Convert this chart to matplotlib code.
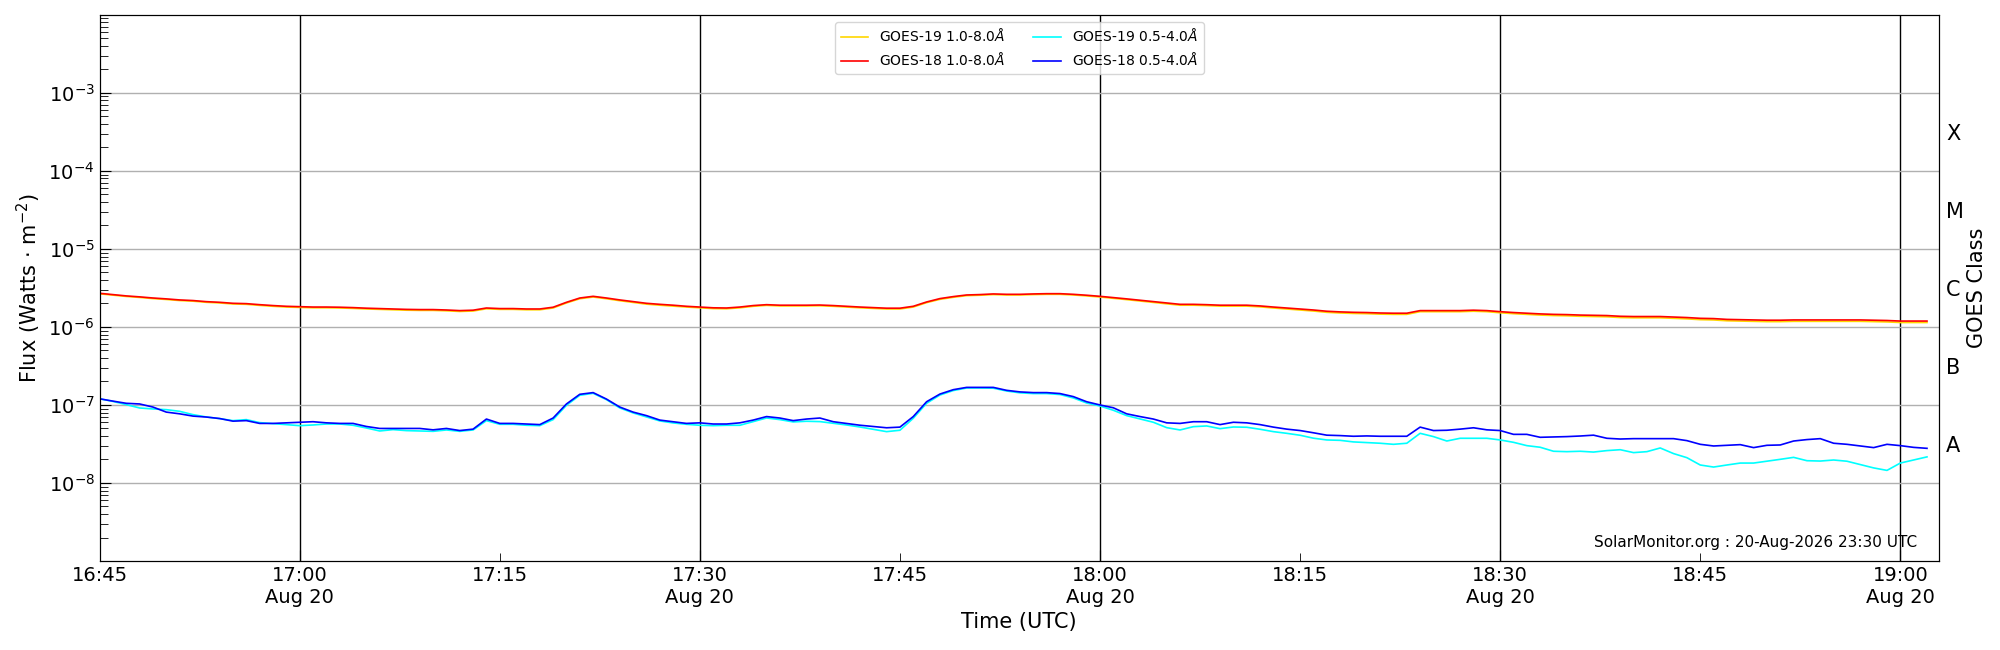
"""GOES X-ray flux plot, 20-Aug-2026 16:45-19:02 UTC."""
import matplotlib
matplotlib.use('Agg')
import matplotlib.pyplot as plt
import matplotlib.dates as mdates
import matplotlib.ticker as mticker
import numpy as np
import pandas as pd

# one sample per minute, 16:45 .. 19:02
times = pd.date_range('2026-08-20 16:45', '2026-08-20 19:02', freq='1min')

# GOES-18 1.0-8.0 A  (x1e-6 W m^-2)
g18_long = [
    2.70, 2.60, 2.50, 2.43, 2.35, 2.29, 2.22, 2.18, 2.11, 2.07,
    2.01, 1.99, 1.93, 1.88, 1.84, 1.82, 1.80, 1.80, 1.79, 1.77,
    1.74, 1.72, 1.70, 1.68, 1.67, 1.67, 1.65, 1.62, 1.64, 1.75,
    1.72, 1.72, 1.70, 1.70, 1.79, 2.07, 2.35, 2.47, 2.35, 2.22,
    2.11, 2.01, 1.95, 1.90, 1.84, 1.80, 1.76, 1.75, 1.80, 1.88,
    1.93, 1.90, 1.90, 1.90, 1.91, 1.88, 1.84, 1.80, 1.77, 1.74,
    1.74, 1.84, 2.09, 2.31, 2.45, 2.57, 2.60, 2.65, 2.62, 2.62,
    2.65, 2.67, 2.67, 2.62, 2.55, 2.47, 2.38, 2.29, 2.20, 2.11,
    2.03, 1.95, 1.95, 1.93, 1.90, 1.90, 1.90, 1.86, 1.80, 1.75,
    1.70, 1.65, 1.59, 1.56, 1.54, 1.53, 1.51, 1.50, 1.50, 1.62,
    1.62, 1.62, 1.62, 1.64, 1.62, 1.57, 1.53, 1.50, 1.47, 1.45,
    1.44, 1.42, 1.41, 1.40, 1.37, 1.36, 1.36, 1.36, 1.34, 1.32,
    1.29, 1.28, 1.25, 1.24, 1.23, 1.22, 1.22, 1.23, 1.23, 1.23,
    1.23, 1.23, 1.23, 1.22, 1.21, 1.19, 1.19, 1.19,
]

# GOES-19 1.0-8.0 A  (x1e-6 W m^-2), sits just under GOES-18
g19_long = [
    2.66, 2.56, 2.46, 2.39, 2.31, 2.25, 2.18, 2.14, 2.07, 2.03,
    1.97, 1.95, 1.89, 1.84, 1.80, 1.78, 1.76, 1.76, 1.75, 1.73,
    1.70, 1.68, 1.66, 1.64, 1.63, 1.63, 1.61, 1.58, 1.60, 1.71,
    1.68, 1.68, 1.66, 1.66, 1.75, 2.03, 2.30, 2.42, 2.30, 2.17,
    2.06, 1.96, 1.90, 1.85, 1.80, 1.76, 1.72, 1.71, 1.76, 1.84,
    1.89, 1.86, 1.86, 1.86, 1.87, 1.84, 1.80, 1.76, 1.73, 1.70,
    1.70, 1.80, 2.05, 2.26, 2.40, 2.52, 2.55, 2.60, 2.57, 2.57,
    2.60, 2.62, 2.62, 2.57, 2.50, 2.42, 2.33, 2.24, 2.15, 2.06,
    1.98, 1.90, 1.90, 1.88, 1.85, 1.85, 1.85, 1.81, 1.75, 1.70,
    1.65, 1.60, 1.54, 1.51, 1.49, 1.48, 1.46, 1.45, 1.45, 1.57,
    1.57, 1.57, 1.57, 1.59, 1.57, 1.52, 1.48, 1.45, 1.42, 1.40,
    1.39, 1.37, 1.36, 1.35, 1.32, 1.31, 1.31, 1.31, 1.29, 1.27,
    1.24, 1.23, 1.20, 1.19, 1.18, 1.17, 1.17, 1.18, 1.18, 1.18,
    1.18, 1.18, 1.18, 1.17, 1.16, 1.14, 1.14, 1.14,
]

# GOES-18 0.5-4.0 A  (x1e-7 W m^-2)
g18_short = [
    1.20, 1.12, 1.05, 1.03, 0.94, 0.81, 0.77, 0.72, 0.70, 0.67,
    0.62, 0.63, 0.58, 0.58, 0.59, 0.60, 0.61, 0.59, 0.58, 0.58,
    0.53, 0.50, 0.50, 0.50, 0.50, 0.48, 0.50, 0.47, 0.49, 0.66,
    0.58, 0.58, 0.57, 0.56, 0.68, 1.03, 1.37, 1.44, 1.19, 0.94,
    0.81, 0.73, 0.64, 0.61, 0.58, 0.59, 0.57, 0.57, 0.59, 0.64,
    0.71, 0.68, 0.63, 0.66, 0.68, 0.61, 0.58, 0.55, 0.53, 0.51,
    0.52, 0.71, 1.10, 1.38, 1.57, 1.68, 1.68, 1.68, 1.54, 1.47,
    1.44, 1.44, 1.40, 1.28, 1.10, 1.00, 0.92, 0.77, 0.71, 0.66,
    0.59, 0.58, 0.61, 0.61, 0.56, 0.60, 0.59, 0.56, 0.52, 0.49,
    0.47, 0.44, 0.41, 0.405, 0.397, 0.401, 0.397, 0.397, 0.397, 0.52,
    0.47, 0.474, 0.49, 0.51, 0.48, 0.47, 0.42, 0.42, 0.385, 0.389,
    0.393, 0.40, 0.41, 0.374, 0.366, 0.370, 0.370, 0.370, 0.370, 0.349,
    0.313, 0.298, 0.304, 0.310, 0.284, 0.304, 0.307, 0.345, 0.360, 0.370,
    0.323, 0.313, 0.298, 0.284, 0.313, 0.301, 0.286, 0.278,
]

# GOES-19 0.5-4.0 A  (x1e-7 W m^-2)
g19_short = [
    1.20, 1.11, 1.01, 0.915, 0.889, 0.871, 0.829, 0.752, 0.702, 0.668,
    0.630, 0.649, 0.594, 0.576, 0.560, 0.543, 0.554, 0.570, 0.570, 0.549,
    0.507, 0.464, 0.483, 0.469, 0.464, 0.459, 0.478, 0.459, 0.478, 0.630,
    0.565, 0.565, 0.549, 0.543, 0.649, 0.99, 1.33, 1.41, 1.17, 0.915,
    0.79, 0.702, 0.624, 0.588, 0.565, 0.549, 0.543, 0.549, 0.549, 0.612,
    0.681, 0.649, 0.606, 0.618, 0.612, 0.582, 0.554, 0.522, 0.488, 0.455,
    0.474, 0.675, 1.05, 1.34, 1.53, 1.65, 1.65, 1.64, 1.51, 1.43,
    1.40, 1.40, 1.36, 1.23, 1.06, 0.97, 0.855, 0.730, 0.662, 0.600,
    0.512, 0.478, 0.527, 0.538, 0.497, 0.522, 0.518, 0.488, 0.455, 0.433,
    0.409, 0.375, 0.356, 0.352, 0.336, 0.329, 0.323, 0.313, 0.323, 0.433,
    0.393, 0.345, 0.374, 0.374, 0.374, 0.356, 0.332, 0.301, 0.287, 0.255,
    0.252, 0.255, 0.249, 0.260, 0.267, 0.245, 0.252, 0.281, 0.238, 0.211,
    0.170, 0.160, 0.170, 0.180, 0.180, 0.190, 0.201, 0.213, 0.193, 0.191,
    0.197, 0.190, 0.172, 0.156, 0.145, 0.180, 0.197, 0.216,
]

goes_classes = ['A', 'B', 'C', 'M', 'X']
class_centres = [10**-7.5, 10**-6.5, 10**-5.5, 10**-4.5, 10**-3.5]

fig = plt.figure(figsize=(20, 6.5), dpi=100)
ax = fig.add_axes([0.0498, 0.137, 0.9197, 0.840])

ax.plot(times, np.array(g19_long) * 1e-6, color='gold', lw=1.2, label=r'GOES-19 1.0-8.0$\AA$')
ax.plot(times, np.array(g18_long) * 1e-6, color='red', lw=1.2, label=r'GOES-18 1.0-8.0$\AA$')
ax.plot(times, np.array(g19_short) * 1e-7, color='cyan', lw=1.2, label=r'GOES-19 0.5-4.0$\AA$')
ax.plot(times, np.array(g18_short) * 1e-7, color='blue', lw=1.2, label=r'GOES-18 0.5-4.0$\AA$')

ax.set_yscale('log')
ax.set_ylim(1.001e-9, 0.999e-2)
ax.set_xlim(pd.Timestamp('2026-08-20 16:45'), pd.Timestamp('2026-08-20 19:02:54'))

ax.xaxis.set_major_locator(mdates.MinuteLocator(byminute=[0, 30]))
ax.xaxis.set_major_formatter(mdates.DateFormatter('%H:%M\n%b %d'))
ax.xaxis.set_minor_locator(mdates.MinuteLocator(byminute=[15, 45]))
ax.xaxis.set_minor_formatter(mdates.DateFormatter('%H:%M'))

ax.tick_params(axis='both', which='both', direction='in', right=True, labelsize=14)
ax.tick_params(which='major', length=8)
ax.tick_params(which='minor', length=6)
ax.xaxis.grid(True, which='major', color='black', lw=1)
ax.yaxis.grid(True, which='major', color='#b0b0b0', lw=1)

ax.set_xlabel('Time (UTC)', fontsize=15)
ax.set_ylabel(r'Flux (Watts $\cdot$ m$^{-2}$)', fontsize=15)

ax2 = ax.twinx()
ax2.set_yscale('log')
ax2.set_ylim(ax.get_ylim())
ax2.yaxis.set_major_locator(mticker.FixedLocator(class_centres))
ax2.yaxis.set_major_formatter(mticker.FixedFormatter(goes_classes))
ax2.yaxis.set_minor_locator(mticker.NullLocator())
ax2.tick_params(axis='y', direction='in', length=0, labelsize=15, pad=5)
ax2.set_ylabel('GOES Class', fontsize=15, labelpad=2)

ax.legend(loc='upper center', ncol=2, fontsize=10)
ax.text(0.988, 0.02, 'SolarMonitor.org : 20-Aug-2026 23:30 UTC', transform=ax.transAxes,
        ha='right', va='bottom', fontsize=11)

plt.savefig('out.png', dpi=100)
plt.close()
print("Saved: out.png")
